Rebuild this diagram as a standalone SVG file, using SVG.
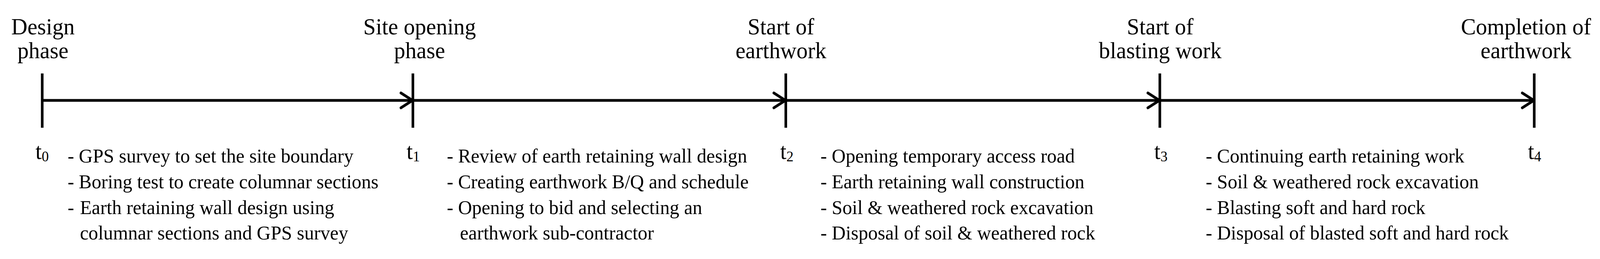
<svg xmlns="http://www.w3.org/2000/svg" width="4282" height="663" viewBox="0 0 4282 663" preserveAspectRatio="none" style="width:100vw;height:100vh">
<style>
  text { font-family: "Liberation Serif", "Times New Roman", serif; fill: #000; }
  .title { font-size: 60px; text-anchor: middle; }
  .t { font-size: 60px; }
  .sub { font-size: 38px; }
  .item { font-size: 51.5px; }
  .tick { stroke: #000; stroke-width: 7; fill: none; }
  .axis { stroke: #000; stroke-width: 7; fill: none; marker-end: url(#chev); }
</style>
<defs>
  <marker id="chev" markerUnits="userSpaceOnUse" markerWidth="80" markerHeight="80" viewBox="-40 -40 80 80" refX="0" refY="0" orient="auto" overflow="visible">
    <path d="M -31 -19 L 0 0 L -31 19" fill="none" stroke="#000" stroke-width="7" stroke-linecap="round" stroke-linejoin="round"/>
  </marker>
</defs>
<rect width="4282" height="663" fill="#fff"/>
<g id="connectors">
  <line class="axis" x1="113" y1="257" x2="1104" y2="257"/>
  <line class="axis" x1="1105" y1="257" x2="2102" y2="257"/>
  <line class="axis" x1="2103" y1="257" x2="3103" y2="257"/>
  <line class="axis" x1="3104" y1="257" x2="4105" y2="257"/>
</g>
<g id="node-t0">
  <line class="tick" x1="113" y1="188" x2="113" y2="327"/>
  <text class="title" x="115" y="88">Design</text>
  <text class="title" x="115" y="149">phase</text>
  <text class="t" x="95" y="407">t<tspan class="sub" dy="6">0</tspan></text>
  <text class="item" x="181" y="416">- GPS survey to set the site boundary</text>
  <text class="item" x="181" y="482">- Boring test to create columnar sections</text>
  <text class="item" x="181" y="548">-<tspan x="214">Earth retaining wall design using</tspan></text>
  <text class="item" x="214" y="613">columnar sections and GPS survey</text>
</g>
<g id="node-t1">
  <line class="tick" x1="1105" y1="188" x2="1105" y2="327"/>
  <text class="title" x="1123" y="88">Site opening</text>
  <text class="title" x="1123" y="149">phase</text>
  <text class="t" x="1088" y="407">t<tspan class="sub" dy="6">1</tspan></text>
  <text class="item" x="1196" y="416">- Review of earth retaining wall design</text>
  <text class="item" x="1196" y="482">- Creating earthwork B/Q and schedule</text>
  <text class="item" x="1196" y="548">- Opening to bid and selecting an</text>
  <text class="item" x="1231" y="613">earthwork sub-contractor</text>
</g>
<g id="node-t2">
  <line class="tick" x1="2103" y1="188" x2="2103" y2="327"/>
  <text class="title" x="2090" y="88">Start of</text>
  <text class="title" x="2090" y="149">earthwork</text>
  <text class="t" x="2088" y="407">t<tspan class="sub" dy="6">2</tspan></text>
  <text class="item" x="2196" y="416">- Opening temporary access road</text>
  <text class="item" x="2196" y="482">- Earth retaining wall construction</text>
  <text class="item" x="2196" y="548">- Soil &amp; weathered rock excavation</text>
  <text class="item" x="2196" y="613">- Disposal of soil &amp; weathered rock</text>
</g>
<g id="node-t3">
  <line class="tick" x1="3104" y1="188" x2="3104" y2="327"/>
  <text class="title" x="3105" y="88">Start of</text>
  <text class="title" x="3105" y="149">blasting work</text>
  <text class="t" x="3089" y="407">t<tspan class="sub" dy="6">3</tspan></text>
  <text class="item" x="3227" y="416">- Continuing earth retaining work</text>
  <text class="item" x="3227" y="482">- Soil &amp; weathered rock excavation</text>
  <text class="item" x="3227" y="548">- Blasting soft and hard rock</text>
  <text class="item" x="3227" y="613">- Disposal of blasted soft and hard rock</text>
</g>
<g id="node-t4">
  <line class="tick" x1="4106" y1="188" x2="4106" y2="327"/>
  <text class="title" x="4084" y="88">Completion of</text>
  <text class="title" x="4084" y="149">earthwork</text>
  <text class="t" x="4089" y="407">t<tspan class="sub" dy="6">4</tspan></text>
</g>
</svg>
